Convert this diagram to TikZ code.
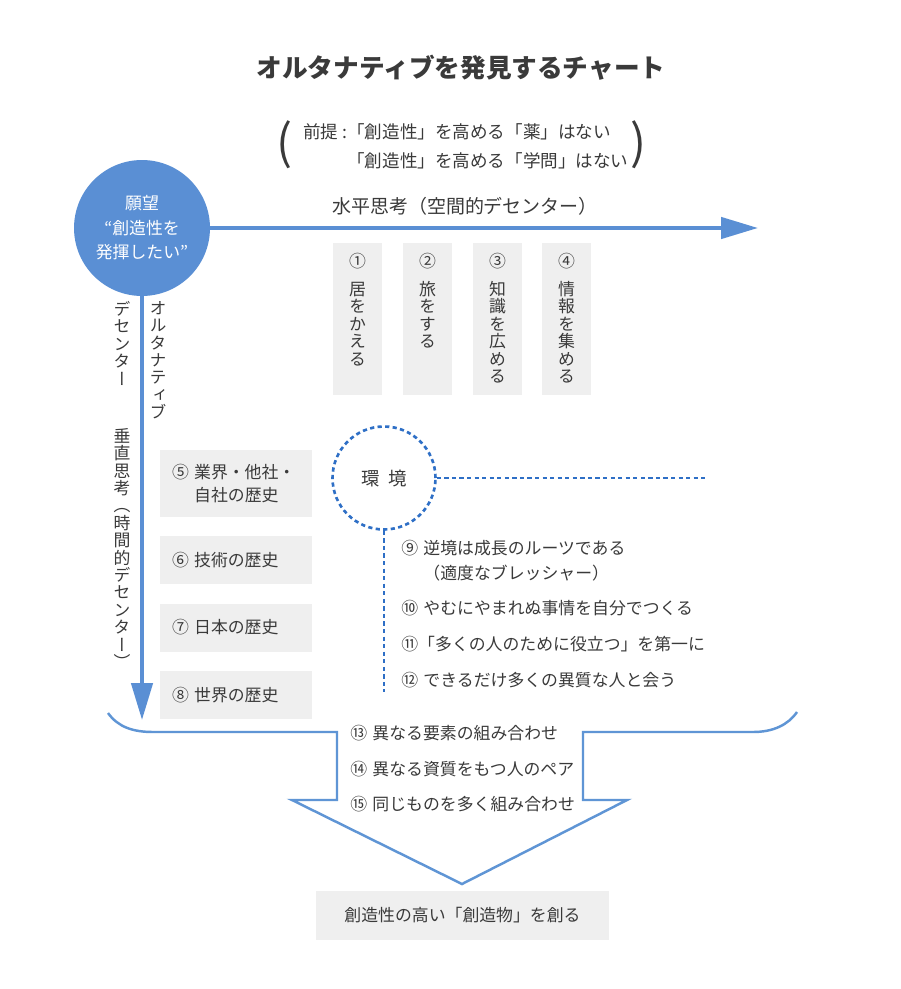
\documentclass[tikz,border=0pt]{standalone}
\usepackage{fontspec}
\setmainfont{Noto Sans CJK JP}
\newfontfamily\vjp[RawFeature=+vert]{Noto Sans CJK JP}
\usepackage{xcolor}
\usetikzlibrary{arrows.meta,positioning,calc}

\definecolor{chartblue}{HTML}{5A8FD4}
\definecolor{funnelblue}{HTML}{5F95D5}
\definecolor{dotblue}{HTML}{2E6FC6}
\definecolor{boxgray}{HTML}{EFEFEF}
\definecolor{ink}{HTML}{3A3A3A}

% vertical text: one character per line
\def\vstkend{}
\def\vstkgobble#1{}
\def\vstkkeep#1{#1}
\def\vstk#1{\vstkB#1\vstkend}
\def\vstkB#1{#1\vstkA}
\def\vstkA#1{\ifx#1\vstkend\expandafter\vstkgobble\else\expandafter\vstkkeep\fi{\\#1\vstkA}}

\begin{document}
\begin{tikzpicture}[x=0.02cm,y=-0.02cm,
                    every node/.style={text=ink,inner sep=0pt},
                    body/.style={font=\fontsize{9.6pt}{13pt}\selectfont},
                    wish node/.style={circle,fill=chartblue,minimum size=2.72cm,text=white,align=center,font=\fontsize{9.6pt}{14pt}\selectfont},
                    env node/.style={circle,draw=dotblue,line width=1.5pt,dash pattern=on 2.4pt off 1.9pt,minimum size=2.06cm,font=\fontsize{10.5pt}{12pt}\selectfont},
                    dots/.style={draw=dotblue,line width=1.5pt,dash pattern=on 2.4pt off 1.9pt},
                    way/.style={draw=chartblue,line width=2.3pt,-{Triangle[length=21pt,width=12pt]}},
                    idea box/.style={fill=boxgray,minimum width=0.98cm,minimum height=3.04cm},
                    vert text/.style={align=center,font=\vjp\fontsize{9.6pt}{9.9pt}\selectfont},
                    hist box/.style={fill=boxgray,text width=2.56cm,inner xsep=0.24cm,minimum height=0.96cm,align=left,body},
                    paren/.style={font=\fontsize{27pt}{27pt}\selectfont},
                    funnel/.style={draw=funnelblue,line width=1.4pt,line join=miter}]
\path[use as bounding box,fill=white] (0,0) rectangle (900,989);

\node[font=\bfseries\fontsize{14.6pt}{16pt}\selectfont] (title) at (461,68) {オルタナティブを発見するチャート};

% premise
\node[paren] (lparen) at (285,145) {(};
\node[paren] (rparen) at (639,145) {)};
\node[anchor=west,align=left,font=\fontsize{10pt}{16.4pt}\selectfont] (premise) at (347,146.5)
     {\llap{前提 :}「創造性」を高める「薬」はない\\「創造性」を高める「学問」はない};

% wish and the two directions
\node[wish node] (wish) at (142,228) {願望\\“創造性を\\発揮したい”};
\coordinate (hend) at (758,228);
\coordinate (vend) at (142,720);
\draw[way] (wish) -- (hend);
\draw[way] (wish.south) -- (vend);

\node[font=\fontsize{10.8pt}{12pt}\selectfont] (hlabel) at (465,206) {水平思考（空間的デセンター）};
\node[vert text,anchor=north] (alt) at (158,301) {\vstk{オルタナティブ}};
\node[vert text,anchor=north] (decenter) at (122,301) {\vstk{デセンター}};
\node[vert text,anchor=north] (vthink) at (122,428) {\vstk{垂直思考（時間的デセンター）}};

% space
\foreach \i/\x/\n/\t in {1/357.5/①/居をかえる, 2/427.5/②/旅をする, 3/497.5/③/知識を広める, 4/566.5/④/情報を集める}
   {\node[idea box] (idea\i) at (\x,319) {};
    \node[vert text,anchor=north] (ideatext\i) at (\x,253) {\n\\[6pt]\expandafter\vstk\expandafter{\t}};}

% time
\node[hist box,minimum height=1.34cm] (hist5) at (236,483.5) {⑤\hspace{3pt}業界・他社・\\\phantom{⑤\hspace{3pt}}自社の歴史};
\node[hist box] (hist6) at (236,560) {⑥\hspace{3pt}技術の歴史};
\node[hist box] (hist7) at (236,627.5) {⑦\hspace{3pt}日本の歴史};
\node[hist box] (hist8) at (236,695) {⑧\hspace{3pt}世界の歴史};

% environment
\node[env node] (env) at (384,478) {環\hspace{5pt}境};
\coordinate (envh) at (705,478);
\coordinate (envv) at (384,692);
\draw[dots] (env.east) -- (envh);
\draw[dots] (env.south) -- (envv);

\node[anchor=west,align=left,font=\fontsize{9.6pt}{14.2pt}\selectfont] (item9) at (401,560.5)
     {⑨\hspace{3pt}逆境は成長のルーツである\\\phantom{⑨\hspace{3pt}}（適度なブレッシャー）};
\node[body,anchor=west] (item10) at (401,608) {⑩\hspace{3pt}やむにやまれぬ事情を自分でつくる};
\node[body,anchor=west] (item11) at (401,644) {⑪「多くの人のために役立つ」を第一に};
\node[body,anchor=west] (item12) at (401,680) {⑫\hspace{3pt}できるだけ多くの異質な人と会う};

% combining
\draw[funnel] (108,713) .. controls (118,727) and (133,732) .. (153,732) -- (337,732) -- (337,800) -- (292,800)
      -- (462,884) -- (627,800) -- (583,800) -- (583,732) -- (753,732) .. controls (773,732) and (788,725) .. (797,712);

\node[body,anchor=west] (mix13) at (350,733) {⑬\hspace{3pt}異なる要素の組み合わせ};
\node[body,anchor=west] (mix14) at (350,769) {⑭\hspace{3pt}異なる資質をもつ人のペア};
\node[body,anchor=west] (mix15) at (350,804) {⑮\hspace{3pt}同じものを多く組み合わせ};

\node[fill=boxgray,minimum width=5.86cm,minimum height=0.98cm,body] (goal) at (462.5,915.5) {創造性の高い「創造物」を創る};

\end{tikzpicture}
\end{document}
